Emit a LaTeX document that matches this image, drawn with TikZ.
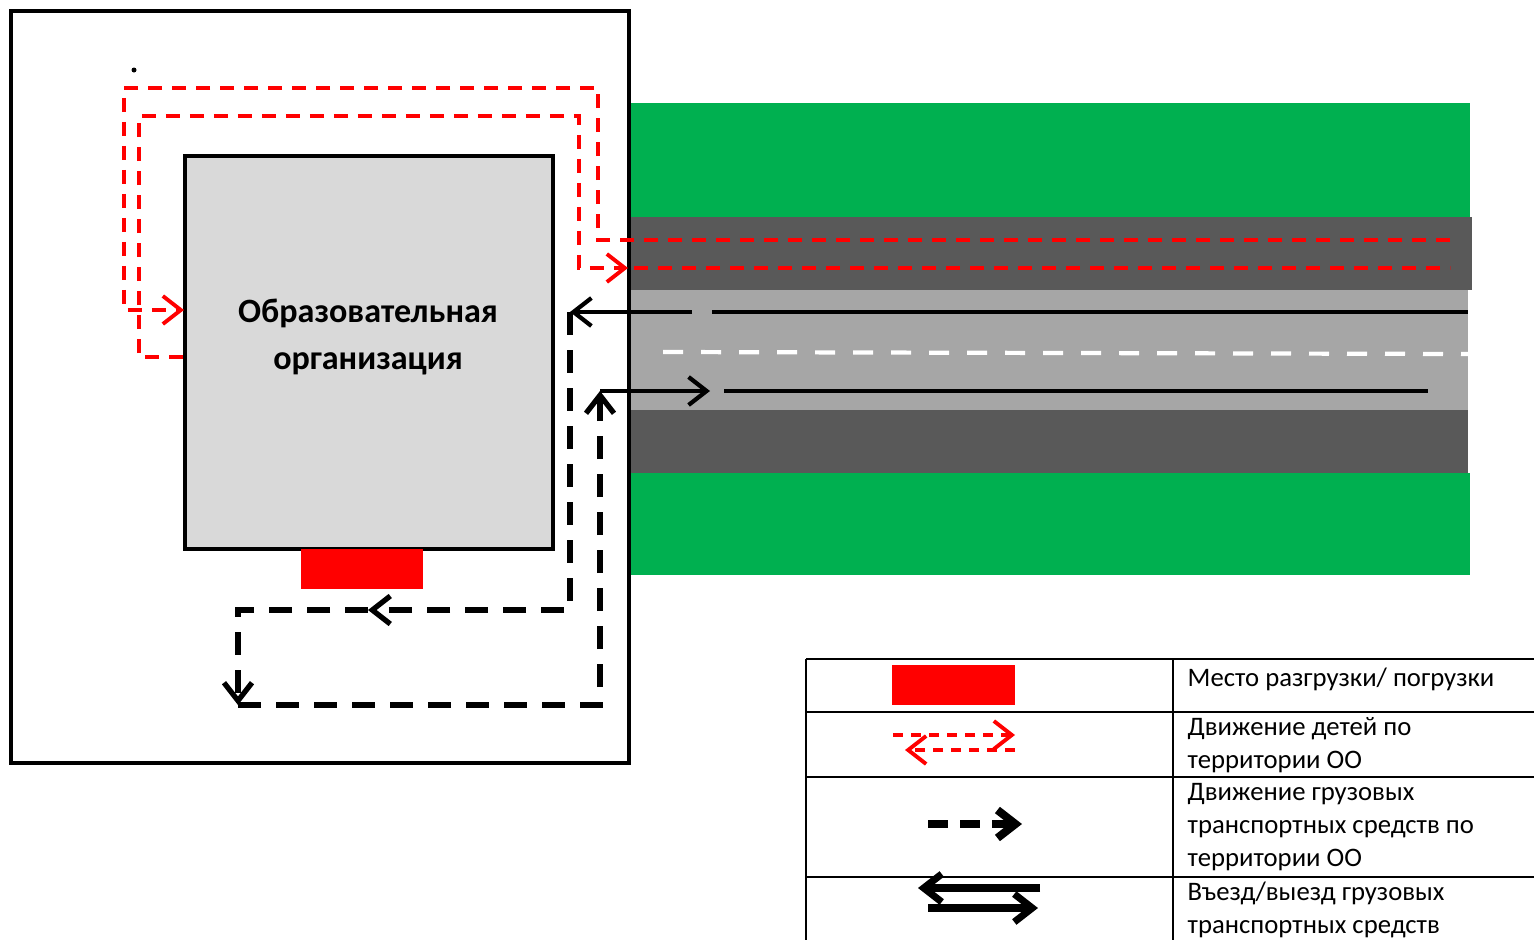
\documentclass[tikz,border=0pt]{standalone}
\usepackage{fontspec}
\setmainfont{Carlito}
\usetikzlibrary{arrows.meta}
\definecolor{grass}{HTML}{00B050}
\definecolor{asphalt}{HTML}{595959}
\definecolor{lane}{HTML}{A6A6A6}
\definecolor{bldg}{HTML}{D9D9D9}
\definecolor{redspot}{HTML}{FF0000}

\begin{document}
\begin{tikzpicture}[x=0.1mm, y=-0.1mm, >={Straight Barb[length=1.8mm,width=2.8mm]}]
	\tikzstyle{kids}=[redspot, line width=1.1pt, dash pattern=on 1.4mm off 1mm]
	\tikzstyle{truck}=[black, line width=1.5pt, dash pattern=on 2.3mm off 1.5mm]
	\tikzstyle{road}=[black, line width=1.2pt]
	\tikzstyle{cell}=[anchor=west, align=left, inner sep=0pt, font=\fontsize{7.6}{9.4}\selectfont]
	\useasboundingbox (0,0) rectangle (1534,940);
		
		% road and grass
		\fill[grass] (630,103) rectangle (1470,217);
		\fill[asphalt] (630,217) rectangle (1472,290);
		\fill[lane] (630,290) rectangle (1468,410);
		\fill[asphalt] (630,410) rectangle (1468,473);
		\fill[grass] (630,473) rectangle (1470,575);
		
		\draw[white, line width=1.2pt, dash pattern=on 2mm off 1.8mm] (663,352) -- (1468,354);
		\draw[road] (712,312) -- (1468,312);
		\draw[road] (724,391) -- (1428,391);
		
		% territory
		\node[draw, line width=0.9pt, minimum width=6.18cm, minimum height=7.52cm, inner sep=0pt] (zone) at (320,387) {};
		\node[draw, line width=1.3pt, fill=bldg, minimum width=3.68cm, minimum height=3.93cm, inner sep=0pt] (oo) at (369,352.5) {};
		\node[font=\bfseries\fontsize{9.7}{13.6}\selectfont, align=center] (ootext) at (368,337) {Образовательная\\организация};
		\node[fill=redspot, minimum width=1.22cm, minimum height=0.4cm, inner sep=0pt] (spot) at (362,569) {};
		\fill (134,70) circle (0.25mm);
		
		%========================================================================
		% Children
		\coordinate (a0) at (1450,240);
		\coordinate (a1) at (598,240);
		\coordinate (a2) at (598,88);
		\coordinate (a3) at (124,88);
		\coordinate (a4) at (124,310);
		\coordinate (a5) at (184,310);
		\draw[kids, ->] (a0) -- (a1) -- (a2) -- (a3) -- (a4) -- (a5);
		
		\coordinate (b0) at (183,357);
		\coordinate (b1) at (139,357);
		\coordinate (b2) at (139,116);
		\coordinate (b3) at (579,116);
		\coordinate (b4) at (579,268);
		\coordinate (b5) at (628,268);
		\coordinate (b6) at (634,268);
		\coordinate (b7) at (1450,268);
		\draw[kids, ->] (b0) -- (b1) -- (b2) -- (b3) -- (b4) -- (b5);
		\draw[kids] (b6) -- (b7);
		
		%========================================================================
		% Trucks
		\coordinate (in0) at (692,312);
		\coordinate (in1) at (570,312);
		\coordinate (t1) at (570,610);
		\coordinate (t2) at (368,610);
		\coordinate (t3) at (238,610);
		\coordinate (t4) at (238,705);
		\coordinate (t5) at (600,705);
		\coordinate (out0) at (600,391);
		\coordinate (out1) at (710,391);
		\draw[road, ->] (in0) -- (in1);
		\draw[truck, ->] (in1) -- (t1) -- (t2);
		\draw[truck, ->] (t2) -- (t3) -- (t4);
		\draw[truck, ->] (t4) -- (t5) -- (out0);
		\draw[road, ->] (out0) -- (out1);
		
		%========================================================================
		% Legend
		\draw[line width=0.6pt] (806,659) -- (1534,659);
		\draw[line width=0.6pt] (806,712) -- (1534,712);
		\draw[line width=0.6pt] (806,777) -- (1534,777);
		\draw[line width=0.6pt] (806,877) -- (1534,877);
		\draw[line width=0.6pt] (806,659) -- (806,940);
		\draw[line width=0.6pt] (1173,659) -- (1173,940);
		
		\node[fill=redspot, minimum width=1.23cm, minimum height=0.4cm, inner sep=0pt] (keyspot) at (953.5,685) {};
		\node[cell] (txtspot) at (1187,679) {Место разгрузки/ погрузки};
		
		\coordinate (k1) at (893,735);
		\coordinate (k2) at (1015,735);
		\coordinate (k3) at (1015,750);
		\coordinate (k4) at (905,750);
		\draw[redspot, line width=1.1pt, dash pattern=on 1mm off 0.8mm, ->] (k1) -- (k2);
		\draw[redspot, line width=1.1pt, dash pattern=on 1mm off 0.8mm, ->] (k3) -- (k4);
		\node[cell] (txtkids) at (1187,745) {Движение детей по\\территории ОО};
		
		\coordinate (k5) at (928,824);
		\coordinate (k6) at (1022,824);
		\draw[black, line width=2.3pt, dash pattern=on 2mm off 1.2mm, ->] (k5) -- (k6);
		\node[cell] (txttruck) at (1187,827) {Движение грузовых\\транспортных средств по\\территории ОО};
		
		\coordinate (k7) at (1040,888);
		\coordinate (k8) at (918,888);
		\coordinate (k9) at (928,908);
		\coordinate (k10) at (1038,908);
		\draw[black, line width=2pt, ->] (k7) -- (k8);
		\draw[black, line width=2pt, ->] (k9) -- (k10);
		\node[cell] (txtgate) at (1187,910) {Въезд/выезд грузовых\\транспортных средств};
	\end{tikzpicture}
\end{document}
